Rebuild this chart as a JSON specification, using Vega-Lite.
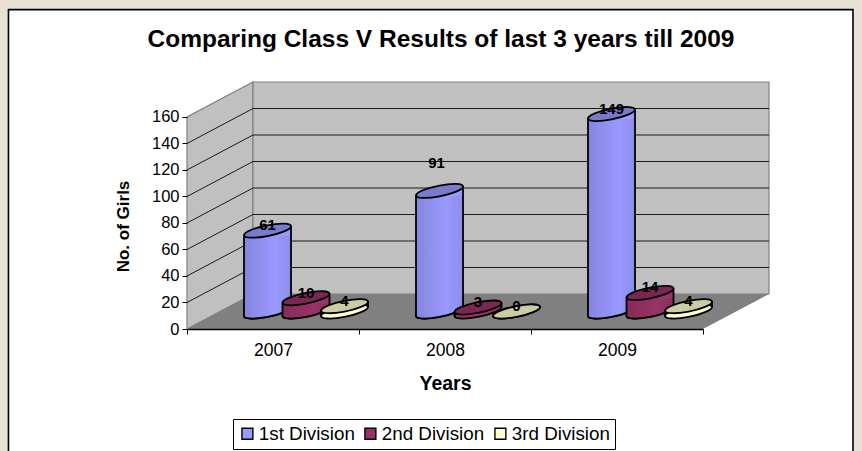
{
"$schema":"https://vega.github.io/schema/vega-lite/v6.json",
"width":582,"height":247,"autosize":"none",
"padding":{"left":187,"top":82,"right":93,"bottom":122},
"background":"#e9e0d6",
"config":{"font":"Liberation Sans","view":{"stroke":null},"axisY":{"grid":false,"domain":false,"tickCount":9,"labelOverlap":false}},
"title":{"text":"Comparing Class V Results of last 3 years till 2009","fontSize":24.5,"fontWeight":"bold","color":"black","anchor":"middle","dx":-37,"offset":-44},
"data":{"name":"bars","values":[
{"year":"2007","division":"1st Division","value":61},
{"year":"2007","division":"2nd Division","value":10},
{"year":"2007","division":"3rd Division","value":4},
{"year":"2008","division":"1st Division","value":91},
{"year":"2008","division":"2nd Division","value":3},
{"year":"2008","division":"3rd Division","value":0},
{"year":"2009","division":"1st Division","value":149},
{"year":"2009","division":"2nd Division","value":14},
{"year":"2009","division":"3rd Division","value":4}
]},
"resolve":{"scale":{"x":"independent"}},
"layer":[
{"mark":{"type":"point","opacity":0},
 "encoding":{
 "x":{"field":"year","type":"nominal","scale":{"domain":["2007","2008","2009"],"range":[0,516],"paddingInner":0,"paddingOuter":0},
  "axis":{"title":"Years","titleFontSize":19.5,"titleFontWeight":"bold","titleColor":"black","titlePadding":16,"labelAngle":0,"labelFontSize":17.5,"labelColor":"black","labelPadding":7,"tickBand":"extent","tickColor":"black","tickSize":5,"domainColor":"black","domainWidth":1.4,"zindex":1,"grid":false}},
 "y":{"field":"value","type":"quantitative","scale":{"domain":[0,186.4],"nice":false,"zero":false},
  "axis":{"title":"No. of Girls","titleFontSize":17,"titleFontWeight":"bold","titleColor":"black","titleX":-55,"titleY":144,"tickCount":9,"labelExpr":"datum.value>160?'':datum.label","tickOpacity":{"expr":"datum.value>160?0:1"},"labelFontSize":16.5,"labelColor":"black","labelPadding":3,"tickColor":"black","tickSize":5,"domain":false,"grid":false,"zindex":1}}}},
{"data":{"values":[{"x":-1.038,"x2":3.872,"y":241,"y2":-100}]},
 "mark":{"type":"rect","fill":"white","stroke":"black","strokeWidth":1.6},
 "encoding":{"x":{"field":"x","type":"quantitative","axis":null,"scale":{"domain":[0,3.3837],"nice":false,"zero":false}},"x2":{"field":"x2"},
 "y":{"field":"y","type":"quantitative","scale":{"domain":[0,186.4],"nice":false,"zero":false}},"y2":{"field":"y2"}}},
{"data":{"values":[{"x":0,"y":0,"y2":160},{"x":0.3837,"y":26.4,"y2":186.4}]},
 "mark":{"type":"area","fill":"#c0c0c0","stroke":"#808080","strokeWidth":1.2,"orient":"vertical"},
 "encoding":{"x":{"field":"x","type":"quantitative","axis":null,"scale":{"domain":[0,3.3837],"nice":false,"zero":false}},
 "y":{"field":"y","type":"quantitative","scale":{"domain":[0,186.4],"nice":false,"zero":false}},"y2":{"field":"y2"}}},
{"data":{"values":[{"x":0.3837,"x2":3.3837,"y":26.4,"y2":186.4}]},
 "mark":{"type":"rect","fill":"#c0c0c0","stroke":"#808080","strokeWidth":1.2},
 "encoding":{"x":{"field":"x","type":"quantitative","axis":null,"scale":{"domain":[0,3.3837],"nice":false,"zero":false}},"x2":{"field":"x2"},
 "y":{"field":"y","type":"quantitative","scale":{"domain":[0,186.4],"nice":false,"zero":false}},"y2":{"field":"y2"}}},
{"data":{"values":[{"x":0,"x2":0.3837,"y":20,"y2":46.4},{"x":0,"x2":0.3837,"y":40,"y2":66.4},{"x":0,"x2":0.3837,"y":60,"y2":86.4},{"x":0,"x2":0.3837,"y":80,"y2":106.4},{"x":0,"x2":0.3837,"y":100,"y2":126.4},{"x":0,"x2":0.3837,"y":120,"y2":146.4},{"x":0,"x2":0.3837,"y":140,"y2":166.4},
{"x":0.3837,"x2":3.3837,"y":46.4,"y2":46.4},{"x":0.3837,"x2":3.3837,"y":66.4,"y2":66.4},{"x":0.3837,"x2":3.3837,"y":86.4,"y2":86.4},{"x":0.3837,"x2":3.3837,"y":106.4,"y2":106.4},{"x":0.3837,"x2":3.3837,"y":126.4,"y2":126.4},{"x":0.3837,"x2":3.3837,"y":146.4,"y2":146.4},{"x":0.3837,"x2":3.3837,"y":166.4,"y2":166.4}]},
 "mark":{"type":"rule","color":"#1a1a1a","strokeWidth":1},
 "encoding":{"x":{"field":"x","type":"quantitative","axis":null,"scale":{"domain":[0,3.3837],"nice":false,"zero":false}},"x2":{"field":"x2"},
 "y":{"field":"y","type":"quantitative","scale":{"domain":[0,186.4],"nice":false,"zero":false}},"y2":{"field":"y2"}}},
{"data":{"values":[{"x":0,"y":0,"y2":0},{"x":0.3837,"y":0,"y2":26.4},{"x":3,"y":0,"y2":26.4},{"x":3.3837,"y":26.4,"y2":26.4}]},
 "mark":{"type":"area","fill":"#808080","orient":"vertical"},
 "encoding":{"x":{"field":"x","type":"quantitative","axis":null,"scale":{"domain":[0,3.3837],"nice":false,"zero":false}},
 "y":{"field":"y","type":"quantitative","scale":{"domain":[0,186.4],"nice":false,"zero":false}},"y2":{"field":"y2"}}},
{"transform":[{"filter":"datum.division==='1st Division'"}],
 "encoding":{
  "x":{"field":"year","type":"nominal","axis":null,"scale":{"domain":["2007","2008","2009"],"range":[-5.5,510.5],"paddingInner":0,"paddingOuter":0}},
  "y":{"field":"value","type":"quantitative","scale":{"domain":[0,186.4],"nice":false,"zero":false}},
  "fill":{"field":"division","type":"nominal","scale":{"domain":["1st Division","2nd Division","3rd Division"],"range":["#9999ff","#993366","#ffffcc"]},
   "legend":{"title":null,"orient":"none","legendX":46,"legendY":337,"direction":"horizontal","columns":3,"columnPadding":6,"symbolType":"square","symbolSize":120,"symbolStrokeColor":"black","symbolStrokeWidth":1.4,"symbolOpacity":1,"labelFontSize":18.8,"labelColor":"black","fillColor":"white","strokeColor":"black","padding":5,"labelOffset":2}}},
 "layer":[
 {"mark":{"type":"point","filled":true,"opacity":1,"size":4,"yOffset":-17.5,"stroke":"black","strokeWidth":1.8,"shape":"M23.5 -4.5 C23.5 -1.52 12.98 2.91 0 5.4 C-12.98 7.89 -23.5 7.48 -23.5 4.5 C-23.5 1.52 -12.98 -2.91 0 -5.4 C12.98 -7.89 23.5 -7.48 23.5 -4.5 Z"},"encoding":{"y":{"datum":0}}},
 {"transform":[{"filter":"datum.value>=8"}],"mark":{"type":"point","filled":true,"opacity":1,"size":4,"yOffset":-17.5,"shape":"M-23.5 -4.5 L23.5 -4.5 C23.5 -1.52 12.98 2.91 0 5.4 C-12.98 7.89 -23.5 7.48 -23.5 4.5 Z"},"encoding":{"y":{"datum":0}}},
 {"transform":[{"filter":"datum.value>=8"}],"mark":{"type":"point","filled":true,"opacity":1,"size":4,"yOffset":-17.5,"shape":"M-23.5 4.5 L23.5 -4.5 L23.5 4.5 Z"}},
 {"transform":[{"filter":"datum.value>=8"}],"mark":{"type":"rect","width":47,"yOffset":-13,"y2Offset":-22},"encoding":{"y2":{"datum":0}}},
 {"transform":[{"filter":"datum.value>=8"}],"mark":{"type":"rect","width":47,"yOffset":-13,"y2Offset":-22},"encoding":{"y2":{"datum":0},"fill":{"value":{"gradient":"linear","x1":0,"y1":0,"x2":1,"y2":0,"stops":[{"offset":0,"color":"rgba(0,0,0,0.13)"},{"offset":0.65,"color":"rgba(0,0,0,0)"},{"offset":1,"color":"rgba(0,0,0,0.08)"}]}}}},
 {"transform":[{"filter":"datum.value>=8"}],"mark":{"type":"point","filled":true,"opacity":1,"size":4,"yOffset":-17.5,"shape":"M-23.5 -4.5 L23.5 -4.5 C23.5 -1.52 12.98 2.91 0 5.4 C-12.98 7.89 -23.5 7.48 -23.5 4.5 Z"},"encoding":{"y":{"datum":0},"fill":{"value":{"gradient":"linear","x1":0,"y1":0,"x2":1,"y2":0,"stops":[{"offset":0,"color":"rgba(0,0,0,0.13)"},{"offset":0.65,"color":"rgba(0,0,0,0)"},{"offset":1,"color":"rgba(0,0,0,0.08)"}]}}}},
 {"transform":[{"filter":"datum.value>=8"}],"mark":{"type":"point","filled":false,"opacity":1,"size":4,"yOffset":-17.5,"stroke":"black","strokeWidth":1.8,"shape":"M23.5 -4.5 C23.5 -1.52 12.98 2.91 0 5.4 C-12.98 7.89 -23.5 7.48 -23.5 4.5"},"encoding":{"y":{"datum":0},"fill":{"value":"transparent"}}},
 {"mark":{"type":"rule","color":"black","strokeWidth":1.8,"xOffset":-23.5,"yOffset":-13,"y2Offset":-13},"encoding":{"y2":{"datum":0},"fill":{"value":"black"}}},
 {"mark":{"type":"rule","color":"black","strokeWidth":1.8,"xOffset":23.5,"yOffset":-22,"y2Offset":-22},"encoding":{"y2":{"datum":0},"fill":{"value":"black"}}},
 {"mark":{"type":"point","filled":true,"opacity":1,"size":4,"yOffset":-17.5,"stroke":"black","strokeWidth":1.8,"shape":"M23.5 -4.5 C23.5 -1.52 12.98 2.91 0 5.4 C-12.98 7.89 -23.5 7.48 -23.5 4.5 C-23.5 1.52 -12.98 -2.91 0 -5.4 C12.98 -7.89 23.5 -7.48 23.5 -4.5 Z"}},
 {"mark":{"type":"point","filled":true,"opacity":0.2,"size":4,"yOffset":-17.5,"shape":"M23.5 -4.5 C23.5 -1.52 12.98 2.91 0 5.4 C-12.98 7.89 -23.5 7.48 -23.5 4.5 C-23.5 1.52 -12.98 -2.91 0 -5.4 C12.98 -7.89 23.5 -7.48 23.5 -4.5 Z"},"encoding":{"fill":{"value":"black"}}},
 {"transform":[{"filter":"datum.value!==91"}],"mark":{"type":"text","fontSize":15,"fontWeight":"bold","yOffset":-23},"encoding":{"text":{"field":"value","type":"quantitative"},"fill":{"value":"black"}}},
 {"transform":[{"filter":"datum.value===91"}],"mark":{"type":"text","fontSize":15,"fontWeight":"bold","yOffset":-45,"xOffset":-3},"encoding":{"text":{"field":"value","type":"quantitative"},"fill":{"value":"black"}}}
 ]},
{"transform":[{"filter":"datum.division==='2nd Division'"}],
 "encoding":{
  "x":{"field":"year","type":"nominal","axis":null,"scale":{"domain":["2007","2008","2009"],"range":[33,549],"paddingInner":0,"paddingOuter":0}},
  "y":{"field":"value","type":"quantitative","scale":{"domain":[0,186.4],"nice":false,"zero":false}},
  "fill":{"field":"division","type":"nominal","scale":{"domain":["1st Division","2nd Division","3rd Division"],"range":["#9999ff","#993366","#ffffcc"]}}},
 "layer":[
 {"mark":{"type":"point","filled":true,"opacity":1,"size":4,"yOffset":-17.5,"stroke":"black","strokeWidth":1.8,"shape":"M23.5 -4.5 C23.5 -1.52 12.98 2.91 0 5.4 C-12.98 7.89 -23.5 7.48 -23.5 4.5 C-23.5 1.52 -12.98 -2.91 0 -5.4 C12.98 -7.89 23.5 -7.48 23.5 -4.5 Z"},"encoding":{"y":{"datum":0}}},
 {"transform":[{"filter":"datum.value>=8"}],"mark":{"type":"point","filled":true,"opacity":1,"size":4,"yOffset":-17.5,"shape":"M-23.5 -4.5 L23.5 -4.5 C23.5 -1.52 12.98 2.91 0 5.4 C-12.98 7.89 -23.5 7.48 -23.5 4.5 Z"},"encoding":{"y":{"datum":0}}},
 {"transform":[{"filter":"datum.value>=8"}],"mark":{"type":"point","filled":true,"opacity":1,"size":4,"yOffset":-17.5,"shape":"M-23.5 4.5 L23.5 -4.5 L23.5 4.5 Z"}},
 {"transform":[{"filter":"datum.value>=8"}],"mark":{"type":"rect","width":47,"yOffset":-13,"y2Offset":-22},"encoding":{"y2":{"datum":0}}},
 {"transform":[{"filter":"datum.value>=8"}],"mark":{"type":"rect","width":47,"yOffset":-13,"y2Offset":-22},"encoding":{"y2":{"datum":0},"fill":{"value":{"gradient":"linear","x1":0,"y1":0,"x2":1,"y2":0,"stops":[{"offset":0,"color":"rgba(0,0,0,0.13)"},{"offset":0.65,"color":"rgba(0,0,0,0)"},{"offset":1,"color":"rgba(0,0,0,0.08)"}]}}}},
 {"transform":[{"filter":"datum.value>=8"}],"mark":{"type":"point","filled":true,"opacity":1,"size":4,"yOffset":-17.5,"shape":"M-23.5 -4.5 L23.5 -4.5 C23.5 -1.52 12.98 2.91 0 5.4 C-12.98 7.89 -23.5 7.48 -23.5 4.5 Z"},"encoding":{"y":{"datum":0},"fill":{"value":{"gradient":"linear","x1":0,"y1":0,"x2":1,"y2":0,"stops":[{"offset":0,"color":"rgba(0,0,0,0.13)"},{"offset":0.65,"color":"rgba(0,0,0,0)"},{"offset":1,"color":"rgba(0,0,0,0.08)"}]}}}},
 {"transform":[{"filter":"datum.value>=8"}],"mark":{"type":"point","filled":false,"opacity":1,"size":4,"yOffset":-17.5,"stroke":"black","strokeWidth":1.8,"shape":"M23.5 -4.5 C23.5 -1.52 12.98 2.91 0 5.4 C-12.98 7.89 -23.5 7.48 -23.5 4.5"},"encoding":{"y":{"datum":0},"fill":{"value":"transparent"}}},
 {"mark":{"type":"rule","color":"black","strokeWidth":1.8,"xOffset":-23.5,"yOffset":-13,"y2Offset":-13},"encoding":{"y2":{"datum":0},"fill":{"value":"black"}}},
 {"mark":{"type":"rule","color":"black","strokeWidth":1.8,"xOffset":23.5,"yOffset":-22,"y2Offset":-22},"encoding":{"y2":{"datum":0},"fill":{"value":"black"}}},
 {"mark":{"type":"point","filled":true,"opacity":1,"size":4,"yOffset":-17.5,"stroke":"black","strokeWidth":1.8,"shape":"M23.5 -4.5 C23.5 -1.52 12.98 2.91 0 5.4 C-12.98 7.89 -23.5 7.48 -23.5 4.5 C-23.5 1.52 -12.98 -2.91 0 -5.4 C12.98 -7.89 23.5 -7.48 23.5 -4.5 Z"}},
 {"mark":{"type":"point","filled":true,"opacity":0.2,"size":4,"yOffset":-17.5,"shape":"M23.5 -4.5 C23.5 -1.52 12.98 2.91 0 5.4 C-12.98 7.89 -23.5 7.48 -23.5 4.5 C-23.5 1.52 -12.98 -2.91 0 -5.4 C12.98 -7.89 23.5 -7.48 23.5 -4.5 Z"},"encoding":{"fill":{"value":"black"}}},
 {"mark":{"type":"text","fontSize":15,"fontWeight":"bold","yOffset":-23},"encoding":{"text":{"field":"value","type":"quantitative"},"fill":{"value":"black"}}}
 ]},
{"transform":[{"filter":"datum.division==='3rd Division'"}],
 "encoding":{
  "x":{"field":"year","type":"nominal","axis":null,"scale":{"domain":["2007","2008","2009"],"range":[71.5,587.5],"paddingInner":0,"paddingOuter":0}},
  "y":{"field":"value","type":"quantitative","scale":{"domain":[0,186.4],"nice":false,"zero":false}},
  "fill":{"field":"division","type":"nominal","scale":{"domain":["1st Division","2nd Division","3rd Division"],"range":["#9999ff","#993366","#ffffcc"]}}},
 "layer":[
 {"mark":{"type":"point","filled":true,"opacity":1,"size":4,"yOffset":-17.5,"stroke":"black","strokeWidth":1.8,"shape":"M23.5 -4.5 C23.5 -1.52 12.98 2.91 0 5.4 C-12.98 7.89 -23.5 7.48 -23.5 4.5 C-23.5 1.52 -12.98 -2.91 0 -5.4 C12.98 -7.89 23.5 -7.48 23.5 -4.5 Z"},"encoding":{"y":{"datum":0}}},
 {"mark":{"type":"rule","color":"black","strokeWidth":1.8,"xOffset":-23.5,"yOffset":-13,"y2Offset":-13},"encoding":{"y2":{"datum":0},"fill":{"value":"black"}}},
 {"mark":{"type":"rule","color":"black","strokeWidth":1.8,"xOffset":23.5,"yOffset":-22,"y2Offset":-22},"encoding":{"y2":{"datum":0},"fill":{"value":"black"}}},
 {"mark":{"type":"point","filled":true,"opacity":1,"size":4,"yOffset":-17.5,"stroke":"black","strokeWidth":1.8,"shape":"M23.5 -4.5 C23.5 -1.52 12.98 2.91 0 5.4 C-12.98 7.89 -23.5 7.48 -23.5 4.5 C-23.5 1.52 -12.98 -2.91 0 -5.4 C12.98 -7.89 23.5 -7.48 23.5 -4.5 Z"}},
 {"mark":{"type":"point","filled":true,"opacity":0.2,"size":4,"yOffset":-17.5,"shape":"M23.5 -4.5 C23.5 -1.52 12.98 2.91 0 5.4 C-12.98 7.89 -23.5 7.48 -23.5 4.5 C-23.5 1.52 -12.98 -2.91 0 -5.4 C12.98 -7.89 23.5 -7.48 23.5 -4.5 Z"},"encoding":{"fill":{"value":"black"}}},
 {"mark":{"type":"text","fontSize":15,"fontWeight":"bold","yOffset":-23},"encoding":{"text":{"field":"value","type":"quantitative"},"fill":{"value":"black"}}}
 ]}
]
}
